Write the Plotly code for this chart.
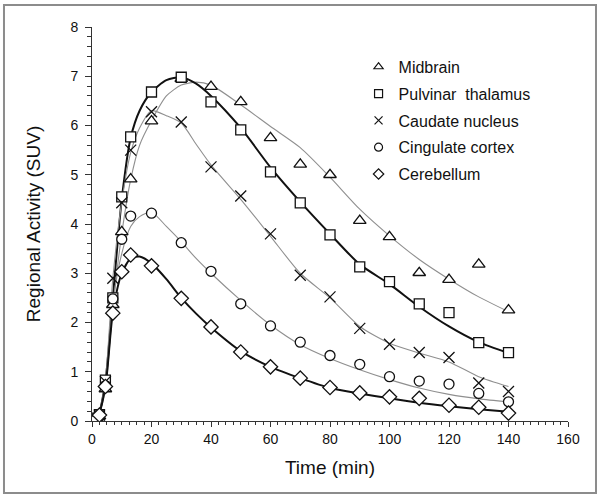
import plotly.graph_objects as go

# ---- measured data (time in min, SUV) ----
time_min = [0.5, 1, 1.5, 2.5, 4.5, 7, 10, 13, 20, 30, 40, 50, 60, 70, 80, 90, 100, 110, 120, 130, 140]
midbrain = [0.0, 0.02, 0.05, 0.1, 0.65, 2.36, 3.84, 4.91, 6.09, 6.95, 6.79, 6.48, 5.75, 5.21, 5.0, 4.07, 3.74, 3.01, 2.87, 3.18, 2.25]
pulvinar = [0.01, 0.03, 0.06, 0.13, 0.83, 2.5, 4.55, 5.77, 6.68, 6.98, 6.48, 5.91, 5.06, 4.43, 3.78, 3.13, 2.83, 2.38, 2.2, 1.59, 1.39]
caudate = [0.0, 0.02, 0.05, 0.12, 0.8, 2.9, 4.43, 5.5, 6.28, 6.07, 5.16, 4.57, 3.8, 2.96, 2.52, 1.88, 1.56, 1.39, 1.29, 0.77, 0.6]
cingulate = [0.0, 0.02, 0.04, 0.12, 0.72, 2.48, 3.69, 4.16, 4.22, 3.62, 3.04, 2.38, 1.93, 1.6, 1.33, 1.15, 0.9, 0.81, 0.75, 0.56, 0.39]
cerebellum = [0.0, 0.01, 0.04, 0.12, 0.7, 2.19, 3.03, 3.37, 3.15, 2.49, 1.91, 1.4, 1.1, 0.87, 0.68, 0.57, 0.49, 0.46, 0.32, 0.28, 0.16]

# ---- fitted curves ----
fit_time = [0, 2, 4.5, 7, 10, 13, 16, 20, 25, 30, 35, 40, 50, 60, 70, 80, 90, 100, 110, 120, 130, 140]
midbrain_fit = [0, 0.1, 0.65, 2.3, 3.8, 4.9, 5.6, 6.1, 6.6, 6.82, 6.88, 6.82, 6.42, 5.98, 5.55, 4.95, 4.3, 3.76, 3.28, 2.88, 2.52, 2.22]
pulvinar_fit = [0, 0.1, 0.8, 2.5, 4.5, 5.75, 6.3, 6.68, 6.92, 6.98, 6.85, 6.6, 5.95, 5.15, 4.45, 3.8, 3.18, 2.78, 2.32, 1.92, 1.6, 1.38]
caudate_fit = [0, 0.1, 0.85, 2.9, 4.45, 5.45, 5.95, 6.3, 6.2, 6.05, 5.62, 5.2, 4.5, 3.75, 3.0, 2.5, 1.92, 1.58, 1.38, 1.2, 0.9, 0.7]
cingulate_fit = [0, 0.1, 0.75, 2.4, 3.4, 3.95, 4.15, 4.24, 3.95, 3.64, 3.3, 3.0, 2.45, 1.95, 1.55, 1.27, 1.04, 0.84, 0.67, 0.54, 0.45, 0.39]
cerebellum_fit = [0, 0.1, 0.7, 2.2, 3.0, 3.3, 3.34, 3.2, 2.88, 2.5, 2.18, 1.9, 1.42, 1.1, 0.87, 0.67, 0.56, 0.46, 0.37, 0.3, 0.24, 0.19]

names = ["Midbrain", "Pulvinar\u00a0 thalamus", "Caudate nucleus", "Cingulate cortex", "Cerebellum"]
x_ticks = [0, 20, 40, 60, 80, 100, 120, 140, 160]
y_ticks = [0, 1, 2, 3, 4, 5, 6, 7, 8]

series = [midbrain, pulvinar, caudate, cingulate, cerebellum]
fits = [midbrain_fit, pulvinar_fit, caudate_fit, cingulate_fit, cerebellum_fit]
symbols = ["triangle-up", "square", "x-thin", "circle", "diamond"]
sizes = [11, 10, 11, 10, 11]
fit_styles = [("#8f8f8f", 1.1), ("#111111", 2.0), ("#8f8f8f", 1.1), ("#8f8f8f", 1.1), ("#111111", 2.0)]

fig = go.Figure()
for f, (col, w) in zip(fits, fit_styles):
    fig.add_trace(go.Scatter(x=fit_time, y=f, mode="lines", showlegend=False, hoverinfo="skip",
                             line=dict(color=col, width=w, shape="spline", smoothing=0.7)))
for s, sym, sz in zip(series, symbols, sizes):
    fig.add_trace(go.Scatter(x=time_min, y=s, mode="markers", showlegend=False,
                             marker=dict(symbol=sym, size=sz, color="white",
                                         line=dict(color="#111111", width=1.3))))
# legend entries (small symbols as in the original)
for i, (n, sym) in enumerate(zip(names, symbols)):
    fig.add_trace(go.Scatter(x=[None], y=[None], mode="markers", name=n, legendgroup=str(i),
                             marker=dict(symbol=sym, size=8, color="white",
                                         line=dict(color="#111111", width=1.2))))

axis_common = dict(showline=True, linecolor="#333333", linewidth=1, ticks="outside",
                   tickcolor="#333333", showgrid=False, zeroline=False, mirror=False,
                   tickfont=dict(family="Liberation Sans, Arial", size=14, color="#111111"))

fig.update_xaxes(range=[0, 160], tickvals=x_ticks, ticklen=5,
                 minor=dict(dtick=2.5, ticklen=3, ticks="outside", tickcolor="#333333"),
                 title=dict(text="Time (min)", standoff=14,
                            font=dict(family="Liberation Sans, Arial", size=19, color="#111111")),
                 **axis_common)
fig.update_yaxes(range=[0, 8], tickvals=y_ticks, ticklen=6, ticklabelstandoff=4,
                 minor=dict(dtick=0.2, ticklen=4, ticks="outside", tickcolor="#333333"),
                 title=dict(text="Regional Activity (SUV)", standoff=24,
                            font=dict(family="Liberation Sans, Arial", size=19, color="#111111")),
                 **axis_common)

fig.add_shape(type="rect", xref="paper", yref="paper", x0=-0.1849, x1=1.0588, y0=-0.1827, y1=1.0558,
              line=dict(color="#8c8c8c", width=2), layer="below")

fig.update_layout(
    width=601, height=497,
    margin=dict(l=92, r=33, t=27, b=76),
    paper_bgcolor="white", plot_bgcolor="white",
    font=dict(family="Liberation Sans, Arial", color="#111111"),
    legend=dict(x=0.56, y=0.942, xanchor="left", yanchor="top", bgcolor="rgba(0,0,0,0)",
                font=dict(family="Liberation Sans, Arial", size=16, color="#111111"),
                traceorder="grouped", tracegroupgap=3, itemwidth=30),
)

fig.write_html("out.html", config={"displayModeBar": False},
               post_script="document.body.style.margin='0px';")
